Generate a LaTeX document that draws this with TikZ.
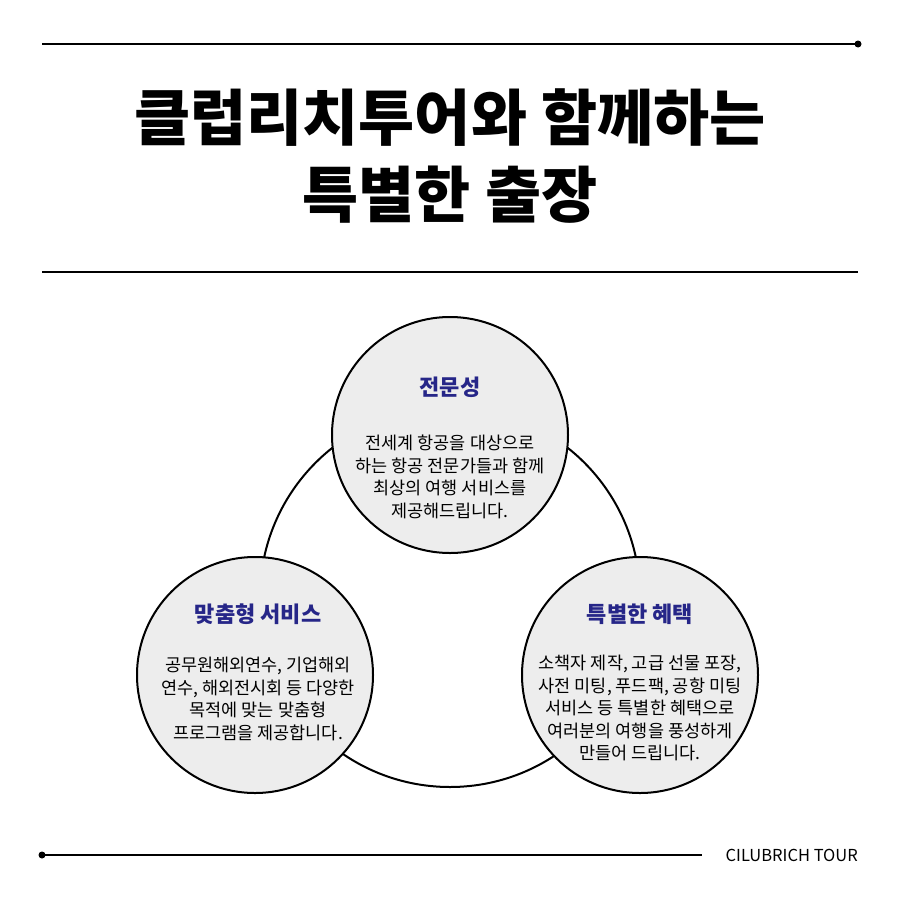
\documentclass[tikz,border=0pt]{standalone}
\usepackage{fontspec}
\setmainfont{Noto Sans CJK KR}
\begin{document}
\begin{tikzpicture}[x=1pt,y=-1pt,
  bub/.style={circle,draw=black,line width=2pt,fill=gray!14,minimum size=236pt,inner sep=0pt},
  ttl/.style={font=\fontsize{22}{26}\selectfont\bfseries,text=blue!45!black!85},
  bod/.style={font=\fontsize{17.5}{22.5}\selectfont,align=center},
  rule/.style={line width=2pt}]
\useasboundingbox (0,0) rectangle (900,900);
\fill[white] (0,0) rectangle (900,900);
\coordinate (t1) at (42,44); \coordinate (t2) at (858,44);
\draw[rule] (t1) -- (t2); \fill (t2) circle (3.5);
\coordinate (m1) at (42,272); \coordinate (m2) at (858,272);
\draw[rule] (m1) -- (m2);
\coordinate (b1) at (42,855); \coordinate (b2) at (702,855);
\draw[rule] (b1) -- (b2); \fill (b1) circle (3.5);
\node[font=\fontsize{16.5}{18}\selectfont,anchor=east,inner sep=0pt] (brand) at (858,855) {CILUBRICH TOUR};
\node[font=\fontsize{61}{70}\selectfont\bfseries] (h1) at (450,118) {클럽리치투어와 함께하는};
\node[font=\fontsize{61}{70}\selectfont\bfseries] (h2) at (450,195) {특별한 출장};
\node[circle,draw=black,line width=2pt,minimum size=380pt] (big) at (450,597) {};
\node[bub] (c1) at (450,435) {};
\node[bub] (c2) at (255,675) {};
\node[bub] (c3) at (640,675) {};
\node[ttl] (c1t) at (450,387) {전문성};
\node[bod] (c1b) at (450,477) {전세계 항공을 대상으로\\하는 항공 전문가들과 함께\\최상의 여행 서비스를\\제공해드립니다.};
\node[ttl] (c2t) at (258,614) {맞춤형 서비스};
\node[bod] (c2b) at (258,699) {공무원해외연수, 기업해외\\연수, 해외전시회 등 다양한\\목적에 맞는 맞춤형\\프로그램을 제공합니다.};
\node[ttl] (c3t) at (640,614) {특별한 혜택};
\node[bod] (c3b) at (640,708) {소책자 제작, 고급 선물 포장,\\사전 미팅, 푸드팩, 공항 미팅\\서비스 등 특별한 혜택으로\\여러분의 여행을 풍성하게\\만들어 드립니다.};
\end{tikzpicture}
\end{document}
